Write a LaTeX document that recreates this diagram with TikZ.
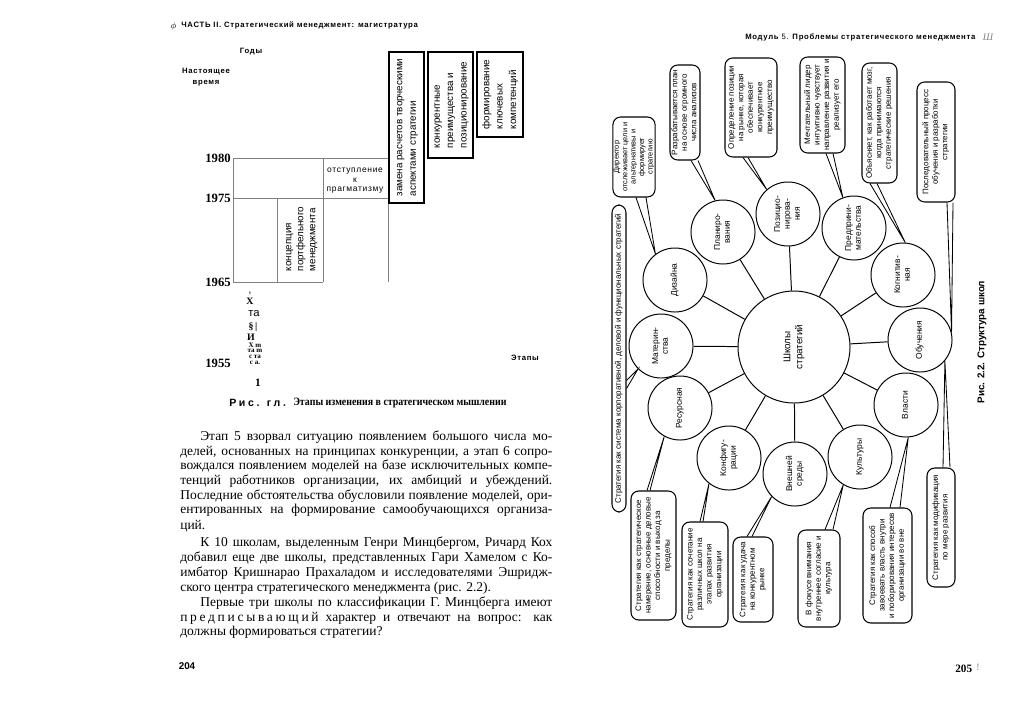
\documentclass[tikz,border=0pt]{standalone}
\usepackage{fontspec}
\setmainfont{Liberation Serif}
\setsansfont{Liberation Sans}
\usetikzlibrary{calc}

% rotated multi-line labels (read from bottom to top)
\newcommand{\vtext}[1]{\rotatebox{90}{\begin{tabular}{@{}c@{}}#1\end{tabular}}}
\newcommand{\vtextl}[1]{\rotatebox{90}{\begin{tabular}{@{}l@{}}#1\end{tabular}}}

\begin{document}
\begin{tikzpicture}[x=0.025cm, y=-0.025cm,
  school/.style={circle, draw, line width=0.7pt, minimum size=1.6cm, inner sep=0pt,
    font=\sffamily\fontsize{6}{7}\selectfont},
  centre/.style={circle, draw, line width=0.7pt, minimum size=2.8cm, inner sep=0pt,
    font=\sffamily\fontsize{7}{8.5}\selectfont},
  note/.style 2 args={draw, line width=0.75pt, rounded corners=5.5pt, inner sep=0pt,
    minimum width=#1*0.025cm, minimum height=#2*0.025cm,
    font=\sffamily\fontsize{5.7}{6.8}\selectfont},
  stagebox/.style 2 args={draw, line width=1.4pt, inner sep=0pt,
    minimum width=#1*0.025cm, minimum height=#2*0.025cm,
    font=\sffamily\fontsize{7}{9.5}\selectfont},
  tail/.style={line width=0.6pt},
  hdr/.style={inner sep=0pt, font=\sffamily\bfseries\fontsize{5.5}{7.8}\selectfont\addfontfeature{LetterSpace=9}},
  yr/.style={anchor=east, inner sep=0pt, font=\bfseries\fontsize{9}{10}\selectfont},
  txt/.style={anchor=base west, inner sep=0pt, font=\fontsize{9.6}{12}\selectfont},
]
  \useasboundingbox (0,0) rectangle (1024,725);
  \fill[white] (0,0) rectangle (1024,725);

  % ---- Left page ----
  % Running head
  \node[anchor=east, inner sep=0pt, font=\fontsize{6}{6}\selectfont] (lmark) at (177,26) {$\phi$};
  \node[hdr, anchor=west] (lhead) at (181,25) {ЧАСТЬ II. Стратегический менеджмент: магистратура};
  % Axis captions
  \node[hdr] (years) at (251,52) {Годы};
  \node[hdr, align=center] (now) at (206,77) {Настоящее\\время};
  \node[hdr] (stages) at (525,358) {Этапы};
  % Grid
  \draw[gray, line width=0.5pt] (233,158) -- (388,158) (233,198) -- (388,198)
    (233,282) -- (323,282) (233,158) -- (233,282) (277,198) -- (277,282)
    (323,158) -- (323,282) (388,158) -- (388,282);
  % Years
  \foreach \yr/\yy in {1980/158, 1975/198, 1965/282, 1955/363}
    \node[yr] (y\yr) at (231,\yy) {\yr};
  % Cells
  \node[inner sep=0pt, align=center, font=\sffamily\fontsize{6}{6.8}\selectfont\addfontfeature{LetterSpace=8}]
    (retreat) at (355,181) {отступление\\к\\прагматизму};
  \node[inner sep=0pt, font=\sffamily\fontsize{7}{8.5}\selectfont]
    (portf) at (301,239) {\vtextl{концепция\\портфельного\\менеджмента}};
  % Stage boxes
  \node[stagebox={35}{151}] (st1) at (406.5,127.5) {\vtextl{замена расчетов творческими\\аспектами стратегии}};
  \node[stagebox={45}{106}] (st2) at (450.5,105) {\vtextl{конкурентные\\преимущества и\\позиционирование}};
  \node[stagebox={46}{85}] (st3) at (500,94.5) {\vtextl{формирование\\ключевых\\компетенций}};
  % Scan residue under 1965
  \node[inner sep=0pt, font=\fontsize{4}{4}\selectfont] (g1) at (250,293) {s};
  \node[inner sep=0pt, font=\bfseries\fontsize{7}{7}\selectfont] (g2) at (250,301) {X};
  \node[inner sep=0pt, font=\sffamily\fontsize{8}{8}\selectfont] (g3) at (254,314) {та};
  \node[inner sep=0pt, font=\bfseries\fontsize{7}{7}\selectfont] (g4) at (253,327) {§\,|};
  \node[inner sep=0pt, font=\bfseries\fontsize{7}{7}\selectfont] (g5) at (251,337) {И};
  \node[inner sep=0pt, font=\bfseries\fontsize{5}{5}\selectfont] (g6) at (255,345) {X m};
  \node[inner sep=0pt, font=\bfseries\fontsize{5}{5}\selectfont] (g7) at (255,351) {та m};
  \node[inner sep=0pt, font=\bfseries\fontsize{5}{5}\selectfont] (g8) at (255,357) {с та};
  \node[inner sep=0pt, font=\bfseries\fontsize{5}{5}\selectfont] (g9) at (255,363) {с а.};
  \node[inner sep=0pt, font=\bfseries\fontsize{8}{8}\selectfont] (one) at (258,383) {1};
  % Figure caption
  \node[anchor=west, inner sep=0pt, font=\sffamily\bfseries\fontsize{7.5}{8}\selectfont\addfontfeature{LetterSpace=25}]
    (lcapa) at (229,403) {Рис. гл.};
  \node[anchor=west, inner sep=0pt, font=\bfseries\fontsize{8}{8}\selectfont\addfontfeature{FakeStretch=0.88}]
    (lcapb) at (293,403) {Этапы изменения в стратегическом мышлении};
  % Body text
  \node[txt] (p1) at (200,440) {\makebox[8.8cm][s]{Этап 5 взорвал ситуацию появлением большого числа мо-}};
  \node[txt] (p2) at (180,455) {\makebox[9.3cm][s]{делей, основанных на принципах конкуренции, а этап 6 сопро-}};
  \node[txt] (p3) at (180,469) {\makebox[9.3cm][s]{вождался появлением моделей на базе исключительных компе-}};
  \node[txt] (p4) at (180,484) {\makebox[9.3cm][s]{тенций работников организации, их амбиций и убеждений.}};
  \node[txt] (p5) at (180,499) {\makebox[9.3cm][s]{Последние обстоятельства обусловили появление моделей, ори-}};
  \node[txt] (p6) at (180,513) {\makebox[9.3cm][s]{ентированных на формирование самообучающихся организа-}};
  \node[txt] (p7) at (180,529) {ций.};
  \node[txt] (p8) at (200,546) {\makebox[8.8cm][s]{К 10 школам, выделенным Генри Минцбергом, Ричард Кох}};
  \node[txt] (p9) at (180,561) {\makebox[9.3cm][s]{добавил еще две школы, представленных Гари Хамелом с Ко-}};
  \node[txt] (p10) at (180,576) {\makebox[9.3cm][s]{имбатор Кришнарао Прахаладом и исследователями Эшридж-}};
  \node[txt] (p11) at (180,591) {ского центра стратегического менеджмента (рис. 2.2).};
  \node[txt] (p12) at (200,606) {\makebox[8.8cm][s]{Первые три школы по классификации Г. Минцберга имеют}};
  \node[txt] (p13) at (180,621) {\makebox[9.3cm][s]{{\addfontfeature{LetterSpace=20}предписывающий} характер и отвечают на вопрос: как}};
  \node[txt] (p14) at (180,635) {должны формироваться стратегии?};
  % Folio
  \node[hdr, font=\sffamily\bfseries\fontsize{7}{8}\selectfont] (lfolio) at (187,666) {204};

  % ---- Right page ----
  % Running head
  \node[hdr, anchor=west] (rhead) at (745,37) {Модуль {\mdseries 5.} Проблемы стратегического менеджмента};
  \node[inner sep=0pt, font=\itshape\fontsize{7}{7}\selectfont, gray] (rmark) at (988,37) {Ш};
  % Schools
  \node[centre] (hub) at (794,347) {\vtext{Школы\\стратегий}};
  \node[school] (dis) at (675,280) {\vtext{Дизайна}};
  \node[school] (pla) at (723,232) {\vtext{Планиро-\\вания}};
  \node[school] (pos) at (788,214) {\vtext{Позицио-\\нирова-\\ния}};
  \node[school] (ent) at (854,228) {\vtext{Предприни-\\мательства}};
  \node[school] (cog) at (903,275) {\vtext{Когнитив-\\ная}};
  \node[school] (lea) at (920,340) {\vtext{Обучения}};
  \node[school] (pow) at (906,405) {\vtext{Власти}};
  \node[school] (cul) at (860,457) {\vtext{Культуры}};
  \node[school] (ext) at (795,474) {\vtext{Внешней\\среды}};
  \node[school] (cfg) at (729,458) {\vtext{Конфигу-\\рации}};
  \node[school] (res) at (680,408) {\vtext{Ресурсная}};
  \node[school] (mat) at (661,346) {\vtext{Материн-\\ства}};
  % Spokes
  \foreach \s in {dis,pla,pos,ent,cog,lea,pow,cul,ext,cfg,res,mat}
    \draw[line width=0.7pt] (hub) -- (\s);
  % Callouts above
  \node[note={42}{80}, font=\sffamily\fontsize{5.3}{6}\selectfont] (c1) at (634,157)
    {\vtext{Директор\\отслеживает цели и\\альтернативы и\\формирует\\стратегию}};
  \node[note={30}{95}] (c2) at (685,112.5) {\vtext{Разрабатывается план\\на основе огромного\\числа анализов}};
  \node[note={52}{99}] (c3) at (751,107.5) {\vtext{Определение позиции\\на рынке, которая\\обеспечивает\\конкурентное\\преимущество}};
  \node[note={45}{96}] (c4) at (822.5,105) {\vtext{Мечтательный лидер\\интуитивно чувствует\\направление развития и\\реализует его}};
  \node[note={35}{120}] (c5) at (879.5,123) {\vtext{Объясняет, как работает мозг,\\когда принимаются\\стратегические решения}};
  \node[note={38}{120}] (c6) at (936,142) {\vtext{Последовательный процесс\\обучения и разработки\\стратегии}};
  % Callouts below
  \node[note={45}{129}] (c7) at (653.5,555.5) {\vtext{Стратегия как стратегическое\\намерение, основные деловые\\способности и выход за\\пределы}};
  \node[note={46}{105}] (c8) at (705,574.5) {\vtext{Стратегия как сочетание\\различных школ на\\этапах развития\\организации}};
  \node[note={40}{85}] (c9) at (753,579.5) {\vtext{Стратегия как удача\\на конкурентном\\рынке}};
  \node[note={42}{97}] (c10) at (819,578.5) {\vtext{В фокусе внимания\\внутреннее согласие и\\культура}};
  \node[note={49}{115}] (c11) at (887.5,565.5) {\vtext{Стратегия как способ\\завоевать власть внутри\\и поборирования интересов\\организации во вне}};
  \node[note={28}{119}] (c12) at (941,527.5) {\vtext{Стратегия как модификация\\по мере развития}};
  % Callout on the left
  \node[note={14}{307}] (c13) at (619,358.5) {\vtext{Стратегия как система корпоративной, деловой и функциональных стратегий}};
  % Tails
  \draw[tail] ($(c1.south)+(2,0)$) -- (dis.127) -- ($(c1.south)+(12,0)$);
  \draw[tail] ($(c2.south)+(6,0)$) -- (pla.104) -- ($(c2.south)+(13,0)$);
  \draw[tail] ($(c3.south)+(-8,0)$) -- (pos.131) -- ($(c3.south)+(-3,0)$);
  \draw[tail] ($(c4.south)+(3.5,0)$) -- (ent.110) -- ($(c4.south)+(10.5,0)$);
  \draw[tail] ($(c5.south)+(-9.5,0)$) -- (cog.86) -- ($(c5.south)+(-2.5,0)$);
  \draw[tail] ($(c6.south)+(11,0)$) -- (lea.14) -- ($(c6.south)+(17,0)$);
  \draw[tail] ($(c7.north)+(-6.5,0)$) -- (res.241) -- ($(c7.north)+(-3.5,0)$);
  \draw[tail] ($(c8.north)+(-5,0)$) -- (cfg.232) -- ($(c8.north)+(-2,0)$);
  \draw[tail] ($(c9.north)+(-6,0)$) -- (ext.224) -- ($(c9.north)+(-1,0)$);
  \draw[tail] ($(c10.north)+(6,0)$) -- (cul.239) -- ($(c10.north)+(14,0)$);
  \draw[tail] ($(c11.north)+(2.5,0)$) -- (pow.274) -- ($(c11.north)+(12.5,0)$);
  \draw[tail] ($(c12.north)+(2,0)$) -- (lea.320) -- ($(c12.north)+(9,0)$);
  \draw[tail] ($(c13.east)+(0,22)$) -- (mat.225) -- ($(c13.east)+(0,30)$);
  % Figure caption
  \node[inner sep=0pt, rotate=90, font=\sffamily\bfseries\fontsize{7}{8}\selectfont] (rcap) at (982,342) {Рис. 2.2. Структура школ};
  % Folio
  \node[anchor=west, inner sep=0pt, font=\bfseries\fontsize{8}{8}\selectfont] (rfolio) at (955,669) {205};
  \node[inner sep=0pt, font=\fontsize{7}{7}\selectfont, gray] (rtick) at (978,667) {!};
\end{tikzpicture}
\end{document}
